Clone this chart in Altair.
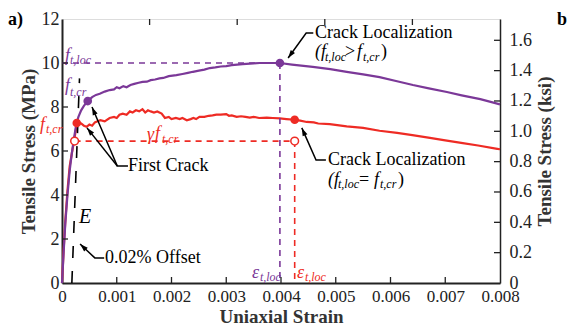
import math
import altair as alt
import pandas as pd

# ---------------- data ----------------
red_strain = [0, 0.00003, 0.00006, 0.0001, 0.00014, 0.00018, 0.00022, 0.00025, 0.00027, 0.0003, 0.00035,
              0.0004, 0.00045, 0.0005, 0.00055, 0.0006, 0.00065, 0.0007, 0.00078, 0.00087, 0.00095, 0.001,
              0.00105, 0.00111, 0.00118, 0.00124, 0.00129, 0.00135, 0.00141, 0.00147, 0.00152, 0.00157,
              0.00162, 0.00168, 0.00174, 0.00182, 0.00188, 0.00195, 0.002, 0.00208, 0.00215, 0.0022, 0.00228,
              0.00235, 0.0024, 0.00245, 0.00251, 0.0026, 0.00268, 0.00275, 0.00282, 0.0029, 0.003, 0.00305,
              0.0031, 0.00319, 0.00327, 0.00335, 0.00343, 0.0035, 0.0036, 0.00374, 0.00385, 0.00398, 0.0041,
              0.00425, 0.00435, 0.00447, 0.0046, 0.00468, 0.00489, 0.0052, 0.0055, 0.0058, 0.00612, 0.0064,
              0.00672, 0.007, 0.00732, 0.0076, 0.00795, 0.008]
red_stress = [0, 1.5, 2.8, 4.2, 5.3, 5.9, 6.45, 6.9, 7.27, 7.3, 7.25,
              7.15, 7.1, 7.2, 7.15, 7.3, 7.35, 7.4, 7.35, 7.5, 7.55, 7.5,
              7.65, 7.7, 7.65, 7.8, 7.75, 7.85, 7.8, 7.9, 7.75, 7.85,
              7.8, 7.75, 7.8, 7.7, 7.5, 7.55, 7.45, 7.5, 7.45, 7.5, 7.4,
              7.45, 7.5, 7.45, 7.55, 7.55, 7.6, 7.62, 7.65, 7.65, 7.68, 7.6,
              7.62, 7.55, 7.58, 7.55, 7.52, 7.55, 7.5, 7.52, 7.5, 7.48, 7.45,
              7.42, 7.38, 7.32, 7.3, 7.25, 7.22, 7.12, 7.05, 6.92, 6.82, 6.72,
              6.6, 6.48, 6.36, 6.25, 6.1, 6.08]

purple_strain = [0, 0.00003, 0.00006, 0.0001, 0.00014, 0.00018, 0.00022, 0.00026, 0.0003, 0.00035, 0.0004,
                 0.00047, 0.00055, 0.00062, 0.00069, 0.00078, 0.00087, 0.00095, 0.001, 0.00105, 0.00112,
                 0.00118, 0.00125, 0.00132, 0.0014, 0.00147, 0.00155, 0.00162, 0.0017, 0.00178, 0.00185,
                 0.00195, 0.00209, 0.0022, 0.0023, 0.00239, 0.0025, 0.0026, 0.0027, 0.0028, 0.0029, 0.003,
                 0.0031, 0.0032, 0.0033, 0.0035, 0.00361, 0.0038, 0.00398, 0.0042, 0.00458, 0.0049, 0.0052,
                 0.0055, 0.0058, 0.0061, 0.00641, 0.0067, 0.00703, 0.0073, 0.00764, 0.008]
purple_stress = [0, 1.4, 2.7, 4.0, 5.1, 5.9, 6.6, 7.2, 7.55, 7.85, 8.05,
                 8.27, 8.45, 8.55, 8.6, 8.7, 8.77, 8.8, 8.9, 8.85, 8.95,
                 8.9, 9.0, 9.05, 9.1, 9.14, 9.15, 9.22, 9.25, 9.3, 9.32,
                 9.4, 9.45, 9.5, 9.55, 9.6, 9.65, 9.7, 9.77, 9.8, 9.84, 9.86,
                 9.9, 9.93, 9.95, 9.98, 10.0, 10.0, 10.0, 9.93, 9.82, 9.72, 9.6,
                 9.48, 9.36, 9.18, 9.0, 8.85, 8.68, 8.53, 8.36, 8.12]

# key points
first_crack_red = (0.00027, 7.27)
first_crack_purple = (0.00047, 8.27)
loc_red = (0.00425, 7.42)
loc_purple = (0.00398, 10.0)
gamma_red = (0.00023, 6.45)    # open circle at first crack
gamma_loc = (0.00425, 6.45)    # open circle at localization

# 0.02 % offset line (E)
offset_strain = [0.00018, 0.00032]
offset_stress = [0.0, 9.3]

# axis ticks
x_ticks = [0, 0.001, 0.002, 0.003, 0.004, 0.005, 0.006, 0.007, 0.008]
x_top_ticks = [0.0016, 0.0032, 0.0048, 0.0064]
y_ticks = [0, 2, 4, 6, 8, 10, 12]
ksi_ticks = [0, 0.2, 0.4, 0.6, 0.8, 1.0, 1.2, 1.4, 1.6]
MPA_PER_KSI = 6.895

RED = "#ee2b24"
PURPLE = "#7b3898"
INK = "#222222"
FONT = "Liberation Serif, Times New Roman, DejaVu Serif, serif"

XMAX, YMAX = 0.008, 12
W, H = 438, 264

xs = alt.Scale(domain=[0, XMAX], nice=False, zero=False)
ys = alt.Scale(domain=[0, YMAX], nice=False, zero=False)

x_axis = alt.Axis(values=x_ticks, orient="bottom", ticks=False, tickSize=0, grid=False,
                  labelExpr="datum.value == 0 ? '0' : format(datum.value, '.3f')",
                  labelFont=FONT, labelFontSize=17, labelColor=INK, labelPadding=5,
                  titleFont=FONT, titleFontSize=19, titleFontWeight="bold", titleColor="#333",
                  titlePadding=3, domainColor=INK, domainWidth=2, labelFlush=False)
y_axis = alt.Axis(values=y_ticks, orient="left", ticks=False, tickSize=0, grid=False,
                  labelFont=FONT, labelFontSize=18, labelColor=INK, labelPadding=3,
                  titleFont=FONT, titleFontSize=19, titleFontWeight="bold", titleColor="#333",
                  titlePadding=3, domainColor=INK, domainWidth=2, labelFlush=False)


def X(field="x"):
    return alt.X(f"{field}:Q", scale=xs, axis=x_axis, title="Uniaxial Strain")


def Y(field="y"):
    return alt.Y(f"{field}:Q", scale=ys, axis=y_axis, title="Tensile Stress (MPa)")


# ---------------- curves ----------------
curves = pd.DataFrame({
    "x": red_strain + purple_strain,
    "y": red_stress + purple_stress,
    "s": ["red"] * len(red_strain) + ["purple"] * len(purple_strain),
    "i": list(range(len(red_strain))) + list(range(len(purple_strain))),
})

curve_layer = alt.Chart(curves).mark_line(strokeWidth=2.2).encode(
    x=X(), y=Y(),
    color=alt.Color("s:N", scale=alt.Scale(domain=["red", "purple"], range=[RED, PURPLE]), legend=None),
    detail="s:N", order="i:Q",
)

# ---------------- dashed reference lines ----------------
dash_df = pd.DataFrame({
    "x": [0, loc_purple[0], loc_purple[0], loc_purple[0], gamma_red[0], gamma_loc[0], gamma_loc[0], gamma_loc[0]],
    "y": [loc_purple[1], loc_purple[1], loc_purple[1], 0, gamma_red[1], gamma_loc[1], gamma_loc[1], 0],
    "g": ["ph", "ph", "pv", "pv", "rh", "rh", "rv", "rv"],
    "c": [PURPLE] * 4 + [RED] * 4,
})
dash_layer = alt.Chart(dash_df).mark_line(strokeDash=[6, 5], strokeWidth=1.6).encode(
    x=X(), y=Y(), detail="g:N", color=alt.Color("c:N", scale=None))

offset_df = pd.DataFrame({"x": offset_strain, "y": offset_stress})
offset_layer = alt.Chart(offset_df).mark_line(strokeDash=[12, 13], strokeWidth=1.6, color="black").encode(
    x=X(), y=Y())

# ---------------- markers ----------------
filled_df = pd.DataFrame({
    "x": [first_crack_red[0], first_crack_purple[0], loc_red[0], loc_purple[0]],
    "y": [first_crack_red[1], first_crack_purple[1], loc_red[1], loc_purple[1]],
    "c": [RED, PURPLE, RED, PURPLE],
})
filled_layer = alt.Chart(filled_df).mark_point(filled=True, size=75, opacity=1).encode(
    x=X(), y=Y(), color=alt.Color("c:N", scale=None))
open_df = pd.DataFrame({"x": [gamma_red[0], gamma_loc[0]], "y": [gamma_red[1], gamma_loc[1]]})
open_layer = alt.Chart(open_df).mark_point(filled=True, size=60, fill="white", stroke=RED,
                                           strokeWidth=1.5, opacity=1).encode(x=X(), y=Y())

# ---------------- arrows ----------------
arrow_paths = {
    "fc_p": [(0.001205, 5.32), (0.00101, 5.32), (0.000548, 8.0)],
    "fc_r": [(0.00101, 5.32), (0.000457, 7.05)],
    "cl_top": [(0.00459, 11.36), (0.00446, 11.36), (0.00413, 10.23)],
    "cl_bot": [(0.00482, 5.59), (0.00464, 5.59), (0.00438, 7.05)],
    "off": [(0.00077, 1.14), (0.0006, 1.14), (0.00033, 1.77)],
}
rows, heads = [], []
for k, pts in arrow_paths.items():
    for i, (px, py) in enumerate(pts):
        rows.append({"x": px, "y": py, "g": k, "i": i})
    (x1, y1), (x2, y2) = pts[-2], pts[-1]
    dx = (x2 - x1) / XMAX * W
    dy = (y2 - y1) / YMAX * H
    ang = math.degrees(math.atan2(dx, dy)) % 360
    heads.append({"x": x2, "y": y2, "a": ang})
arrow_layer = alt.Chart(pd.DataFrame(rows)).mark_line(strokeWidth=1.5, color="black").encode(
    x=X(), y=Y(), detail="g:N", order="i:Q")
head_layer = alt.Chart(pd.DataFrame(heads)).mark_point(
    shape="M0,0L0.55,1.7L-0.55,1.7Z", filled=True, color="black", size=90, opacity=1).encode(
    x=X(), y=Y(), angle=alt.Angle("a:Q", scale=None))

# ---------------- text annotations ----------------
# (text, x, y, size, style, color)
texts = [
    ("First Crack", 0.001205, 5.32, 18, "normal", "black"),
    ("Crack Localization", 0.004621, 11.36, 18, "normal", "black"),
    ("(f", 0.004621, 10.5, 18, "italic", "black"),
    ("t,loc", 0.004804, 10.27, 12, "italic", "black"),
    (">", 0.005169, 10.5, 18, "normal", "black"),
    ("f", 0.005388, 10.5, 18, "italic", "black"),
    ("t,cr", 0.005498, 10.27, 12, "italic", "black"),
    (")", 0.005826, 10.5, 18, "normal", "black"),
    ("Crack Localization", 0.004858, 5.59, 18, "normal", "black"),
    ("(f", 0.004858, 4.68, 18, "italic", "black"),
    ("t,loc", 0.005041, 4.5, 12, "italic", "black"),
    ("=", 0.005425, 4.68, 18, "normal", "black"),
    ("f", 0.005699, 4.68, 18, "italic", "black"),
    ("t,cr", 0.005808, 4.5, 12, "italic", "black"),
    (")", 0.006137, 4.68, 18, "normal", "black"),
    ("0.02% Offset", 0.000785, 1.14, 18, "normal", "black"),
    ("E", 0.00031, 3.0, 20, "italic", "black"),
    ("f", 0.0000548, 10.3, 18, "italic", PURPLE),
    ("t,loc", 0.000146, 10.12, 12, "italic", PURPLE),
    ("f", 0.0000548, 8.95, 18, "italic", PURPLE),
    ("t,cr", 0.000146, 8.68, 12, "italic", PURPLE),
    ("f", -0.000402, 7.18, 18, "italic", RED),
    ("t,cr", -0.000292, 7.0, 12, "italic", RED),
    ("\u03b3", 0.001553, 6.73, 18, "italic", RED),
    ("f", 0.001699, 6.77, 18, "italic", RED),
    ("t,cr", 0.001827, 6.55, 12, "italic", RED),
    ("\u03b5", 0.00347, 0.45, 18, "italic", PURPLE),
    ("t,loc", 0.003615, 0.27, 12, "italic", PURPLE),
    ("\u03b5", 0.004292, 0.45, 18, "italic", RED),
    ("t,loc", 0.004437, 0.27, 12, "italic", RED),
]
tdf = pd.DataFrame(texts, columns=["t", "x", "y", "sz", "st", "c"])
text_layers = []
for st in ["normal", "italic"]:
    text_layers.append(
        alt.Chart(tdf[tdf.st == st]).mark_text(align="left", baseline="middle", font=FONT,
                                               fontStyle=st).encode(
            x=X(), y=Y(), text="t:N", size=alt.Size("sz:Q", scale=None),
            color=alt.Color("c:N", scale=None)))

# ---------------- inward ticks ----------------
tick_bottom = alt.Chart(pd.DataFrame({"x": x_ticks[1:-1]})).mark_rule(color=INK, strokeWidth=1.3).encode(
    x=X(), y=alt.value(H), y2=alt.value(H - 6))
tick_top = alt.Chart(pd.DataFrame({"x": x_top_ticks})).mark_rule(color=INK, strokeWidth=1.3).encode(
    x=X(), y=alt.value(0), y2=alt.value(6))
tick_left = alt.Chart(pd.DataFrame({"y": y_ticks[1:-1]})).mark_rule(color=INK, strokeWidth=1.3).encode(
    y=Y(), x=alt.value(0), x2=alt.value(6))
tick_right = alt.Chart(pd.DataFrame({"y": [v * MPA_PER_KSI for v in ksi_ticks[1:]]})).mark_rule(
    color=INK, strokeWidth=1.3).encode(y=Y(), x=alt.value(W), x2=alt.value(W - 6))

# panel labels
panel_a = alt.Chart(pd.DataFrame({"t": ["a)"]})).mark_text(
    align="left", baseline="middle", font=FONT, fontSize=18, fontWeight="bold", color="black").encode(
    x=alt.value(-54), y=alt.value(1), text="t:N")
panel_b = alt.Chart(pd.DataFrame({"t": ["b"]})).mark_text(
    align="left", baseline="middle", font=FONT, fontSize=18, fontWeight="bold", color="black").encode(
    x=alt.value(495), y=alt.value(1), text="t:N")

main = alt.layer(curve_layer, dash_layer, offset_layer, arrow_layer, head_layer, filled_layer, open_layer,
                 *text_layers, tick_bottom, tick_top, tick_left, tick_right, panel_a, panel_b)

# right (ksi) axis
ksi_layer = alt.Chart(pd.DataFrame({"k": [0, YMAX / MPA_PER_KSI]})).mark_point(opacity=0).encode(
    y=alt.Y("k:Q", scale=alt.Scale(domain=[0, YMAX / MPA_PER_KSI], nice=False, zero=False),
            title="Tensile Stress (ksi)",
            axis=alt.Axis(orient="right", values=ksi_ticks, ticks=False, tickSize=0, grid=False,
                          labelExpr="datum.value == 0 ? '0' : format(datum.value, '.1f')",
                          labelFont=FONT, labelFontSize=18, labelColor=INK, labelPadding=9,
                          titleFont=FONT, titleFontSize=19, titleFontWeight="bold", titleColor="#333",
                          titleAngle=270, titleBaseline="top", titlePadding=4, domainColor=INK,
                          domainWidth=1.5, labelFlush=False)))

chart = alt.layer(main, ksi_layer).resolve_scale(y="independent").properties(
    width=W, height=H, autosize=alt.AutoSizeParams(type="none"),
    padding={"left": 62, "top": 19, "right": 68, "bottom": 42},
).configure_view(stroke=INK, strokeWidth=1.5).configure(background="white")

chart.save("out.html", embed_options={"renderer": "svg", "actions": False})
